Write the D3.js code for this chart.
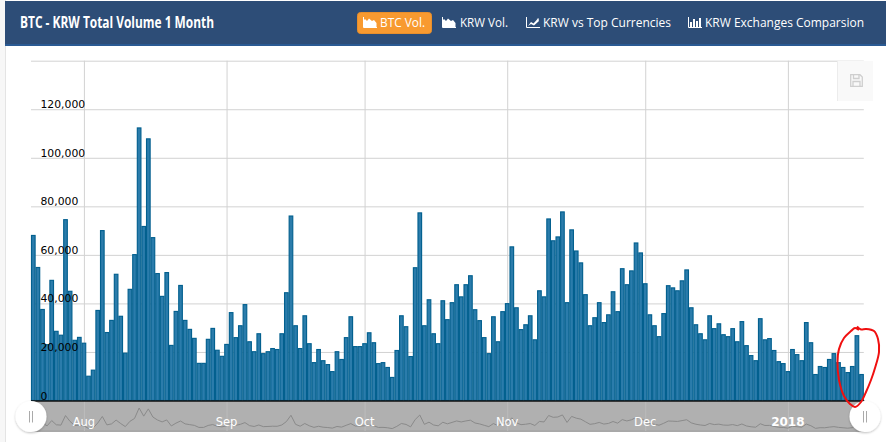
<!DOCTYPE html>
<html><head><meta charset="utf-8">
<script src="https://cdn.jsdelivr.net/npm/d3@7/dist/d3.min.js"></script>
<style>
html,body{margin:0;padding:0;background:#fff;overflow:hidden}
svg{display:block}
</style></head><body><svg id="c" width="886" height="442"></svg>
<script>
const titleText = "BTC - KRW Total Volume 1 Month";
const menuLabels = ["BTC Vol.","KRW Vol.","KRW vs Top Currencies","KRW Exchanges Comparsion"];
const firstDay = "2017-07-21";
const yTicks = [0,20000,40000,60000,80000,100000,120000,140000];
const yLabelTicks = [0,20000,40000,60000,80000,100000,120000];
const monthTicks = ["2017-08-01","2017-09-01","2017-10-01","2017-11-01","2017-12-01","2018-01-01"];
const monthLabels = ["Aug","Sep","Oct","Nov","Dec","2018"];
const volumes = [68000,54800,37500,23000,49500,28500,26900,74500,45000,24800,26000,23600,10000,12500,37100,70000,28000,33000,52000,34700,19500,45800,60100,112300,71700,107800,67100,52300,42900,52700,22700,36700,47400,33000,29300,25600,15300,15300,25200,29700,20700,18200,23100,36200,25900,30800,39500,24200,20100,27500,19300,20100,21400,21000,27500,44400,76000,30800,21400,34900,23400,15600,21000,16400,14800,11900,20100,16900,25900,34500,22200,22200,23400,27900,23800,15200,15600,13600,9500,20600,34900,30400,18100,54700,77300,30800,41500,27500,23400,41100,33300,40300,47700,42700,47700,51400,37400,32900,25900,19300,34500,24200,36600,39900,63300,38200,29200,31200,34900,25000,45200,42700,74800,65800,67400,77700,40300,70300,61600,56700,43600,30800,34100,40300,32100,35300,44800,36600,54300,47700,53400,64900,60800,48100,35300,30800,26300,35800,47300,46400,45200,49300,53800,38200,31200,27500,25000,34900,29600,31600,27100,26300,29600,24200,32500,22600,18500,16400,33700,25000,25500,20600,16000,15200,11900,21000,18900,16400,32100,23800,10700,14000,13600,16900,19300,15600,13600,11500,14000,26700,10700];

const svg = d3.select("#c");
const start = new Date(firstDay+"T00:00:00Z");
const days = volumes.map((v,i)=>d3.utcDay.offset(start,i));
const L=31,R=863.8,T=60.7,B=400.5;
const halfDay = 12*3600*1000;
const x = d3.scaleUtc().domain([+days[0]-halfDay,+days[days.length-1]+halfDay]).range([L,R]);
const y = d3.scaleLinear().domain([0,140000]).range([B,T]);
const navY = d3.scaleLinear().domain([0,112300]).range([430.5,408]);
const parse = d=>new Date(d+"T00:00:00Z");
const sans = "'Open Sans',sans-serif";

// page frame
svg.append("rect").attr("width",886).attr("height",442).attr("fill","#fff");
svg.append("rect").attr("x",0).attr("y",0).attr("width",5).attr("height",442).attr("fill","#f7f7f7");
svg.append("rect").attr("x",5).attr("y",0).attr("width",1).attr("height",442).attr("fill","#e4e4e4");
svg.append("rect").attr("x",5).attr("y",1).attr("width",881).attr("height",44).attr("fill","#2d4d77");
svg.append("rect").attr("x",5).attr("y",44).attr("width",881).attr("height",2).attr("fill","#2a5a93");

svg.append("text").text(titleText).attr("x",20).attr("y",28)
  .attr("font-family","'Liberation Sans Narrow','Open Sans',sans-serif")
  .attr("font-weight",700).attr("font-size",15.5).attr("fill","#fff")
  .attr("textLength",194).attr("lengthAdjust","spacingAndGlyphs");

// header menu
svg.append("rect").attr("x",357.5).attr("y",12.5).attr("width",74).attr("height",21).attr("rx",3)
  .attr("fill","#f89a30").attr("stroke","#e88f2c");
const menuX=[380,460,543,705], menuW=[45,48,128,159], iconX=[363,442,526,688];
const glyph = [
 "M0 10L0 4L2 2L4 4L6 1.5L9 4L11 3L13.5 6L13.5 10Z",
 "M0 10L0 4L2 2L4 4L6 1.5L9 4L11 3L13.5 6L13.5 10Z",
 "M2 9L5 5L7.5 6.5L12 1.5L13 4L13 2.5L10.5 2L13 1.5L13 4L8 8.5L5 7L2 9Z",
 "M2 5h2v5h-2zM5 2h2v8h-2zM8 4h2v6h-2zM11 1h2v9h-2z"];
menuLabels.forEach((t,i)=>{
  svg.append("text").text(t).attr("x",menuX[i]).attr("y",27)
    .attr("font-family",sans).attr("font-size",13).attr("fill","#fff")
    .attr("textLength",menuW[i]).attr("lengthAdjust","spacingAndGlyphs");
  const g=svg.append("g").attr("transform",`translate(${iconX[i]},17)`);
  g.append("path").attr("d",glyph[i]).attr("fill","#fff");
  g.append("path").attr("d","M0.5 0V10.5H14").attr("fill","none").attr("stroke","#fff").attr("stroke-width",1);
});

// grid
svg.append("g").attr("transform",`translate(${L},0)`)
  .call(d3.axisRight(y).tickValues(yTicks).tickSize(R-L).tickFormat(""))
  .call(g=>{g.select(".domain").remove();g.selectAll("line").attr("stroke","#d2d2d2").attr("stroke-width",1);});
svg.append("g").attr("transform",`translate(0,${T})`)
  .call(d3.axisBottom(x).tickValues(monthTicks.map(parse)).tickSize(B-T).tickFormat(""))
  .call(g=>{g.select(".domain").remove();g.selectAll("line").attr("stroke","#d2d2d2").attr("stroke-width",1);});

// save button
svg.append("rect").attr("x",837).attr("y",61).attr("width",36).attr("height",40).attr("fill","#f9f9f9");
svg.append("line").attr("x1",837.5).attr("x2",837.5).attr("y1",61).attr("y2",101).attr("stroke","#ececec");
const sv=svg.append("g").attr("transform","translate(850,74)").attr("fill","none").attr("stroke","#cfcfcf").attr("stroke-width",1.3);
sv.append("path").attr("d","M.7 .7H10L12.3 3V12.3H.7Z");
sv.append("path").attr("d","M3.5 .7V4.5H9V.7M3 12.3V7.5H10V12.3");

// bars
const bw = x(days[1])-x(days[0]);
svg.append("g").selectAll("rect").data(volumes).join("rect")
  .attr("x",(d,i)=>x(days[i])-bw/2+0.5)
  .attr("width",bw-1)
  .attr("y",d=>y(d))
  .attr("height",d=>B-y(d))
  .attr("fill","#2b7cab")
  .attr("stroke","#03608f").attr("stroke-width",1.15);

// navigator
svg.append("rect").attr("x",L).attr("y",401).attr("width",R-L).attr("height",30).attr("fill","#b0b0b0");
svg.append("line").attr("x1",L).attr("x2",R).attr("y1",431.3).attr("y2",431.3).attr("stroke","#939393").attr("stroke-width",1);
svg.append("g").attr("transform","translate(0,401)")
  .call(d3.axisBottom(x).tickValues(monthTicks.map(parse)).tickSize(30).tickFormat(""))
  .call(g=>{g.select(".domain").remove();g.selectAll("line").attr("stroke","#bcbcbc");});
svg.append("path").datum(volumes)
  .attr("d",d3.line().x((d,i)=>x(days[i])).y(d=>navY(d)))
  .attr("fill","none").attr("stroke","#8a8a8a").attr("stroke-width",1);
svg.append("line").attr("x1",L).attr("x2",R+0.5).attr("y1",401).attr("y2",401).attr("stroke","#111").attr("stroke-width",1.5);

monthLabels.forEach((t,i)=>{
  svg.append("text").text(t).attr("x",x(parse(monthTicks[i]))).attr("y",426)
    .attr("text-anchor","middle").attr("font-family","'DejaVu Sans',sans-serif")
    .attr("font-size",t==="2018"?12:11.5).attr("font-weight",t==="2018"?700:400)
    .attr("fill","#fff");
});

// y labels on top of bars
svg.append("g").attr("transform","translate(40.5,0)")
  .call(d3.axisRight(y).tickValues(yLabelTicks).tickSize(0).tickPadding(0).tickFormat(d3.format(",")))
  .call(g=>{g.select(".domain").remove();
    g.selectAll("text").attr("font-family","'DejaVu Sans',sans-serif").attr("font-size",10.8)
     .attr("fill","#000").attr("dy","-1.5px");});

// handles
const defs=svg.append("defs");
const f=defs.append("filter").attr("id","sh").attr("x","-30%").attr("y","-30%").attr("width","160%").attr("height","160%");
f.append("feDropShadow").attr("dx",0).attr("dy",1).attr("stdDeviation",1.2).attr("flood-color","#000").attr("flood-opacity",0.25);
[31,865].forEach(cx=>{
  svg.append("circle").attr("cx",cx).attr("cy",416.5).attr("r",15.5).attr("fill","#fff").attr("filter","url(#sh)");
  [-1.5,1.5].forEach(dx=>svg.append("line").attr("x1",cx+dx).attr("x2",cx+dx).attr("y1",411).attr("y2",422.5)
     .attr("stroke","#aaa").attr("stroke-width",1));
});

// hand-drawn annotation
const ring=[[857,326.5],[861,329.5],[866,329],[874,331],[878,339],[879,352],[875,368],[871,380],[866,392],[861,402],[855,407],[850,404],[844,396],[839,380],[837.5,362],[839,349],[844,338],[851,331],[855,328],[859,330]];
svg.append("path").attr("d",d3.line().curve(d3.curveCatmullRom)(ring))
  .attr("fill","none").attr("stroke","#f01010").attr("stroke-width",2);
</script></body></html>
